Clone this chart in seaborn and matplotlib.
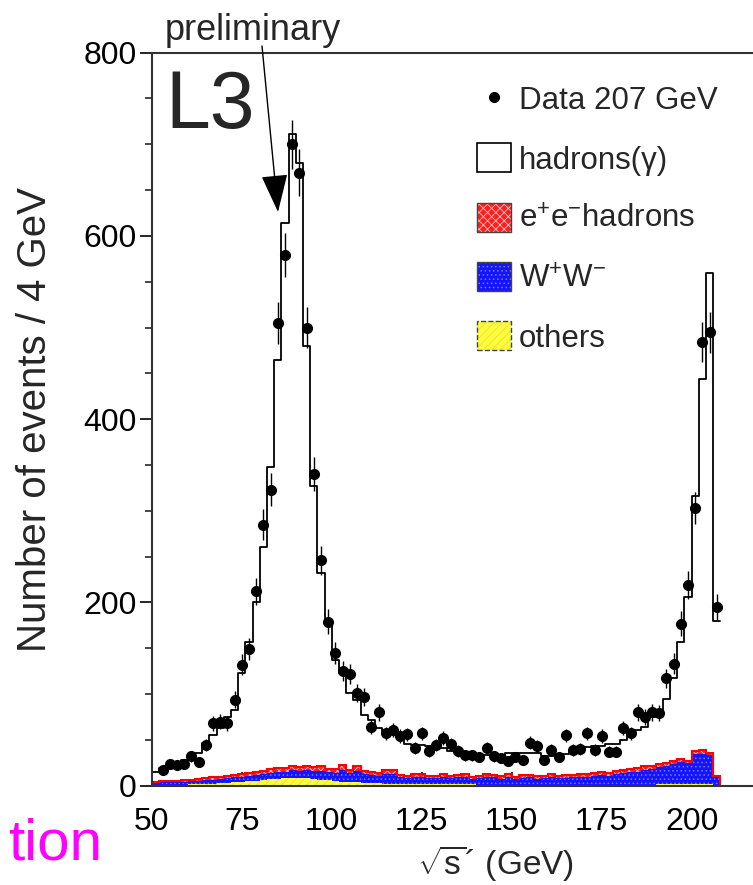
# %% HEADER
# L3 preliminary: sqrt(s') spectrum of hadronic events at 207 GeV

# %% IMPORTS
import matplotlib

matplotlib.use("Agg")
from matplotlib import ticker
from matplotlib.lines import Line2D
from matplotlib.patches import Patch
import matplotlib.pyplot as plt
import numpy as np
import pandas as pd
import seaborn as sns

# %% DATA
# Histogram binning (2 GeV bins from 50 to 208 GeV)
bin_edges = list(range(50, 210, 2))
bin_centres = [edge + 1 for edge in bin_edges[:-1]]

# MC total: hadrons(gamma)
hadrons = [
    15, 19, 22, 25, 28, 32, 36, 47, 55, 63,
    75, 83, 123, 157, 200, 261, 348, 465, 614, 711,
    680, 480, 327, 232, 175, 137, 123, 101, 94, 77,
    72, 63, 60, 57, 53, 45, 44, 44, 43, 42,
    41, 38, 37, 36, 35, 34, 33, 33, 34, 36,
    36, 36, 36, 36, 32, 32, 35, 35, 39, 40,
    42, 43, 43, 45, 46, 50, 55, 61, 64, 75,
    81, 95, 117, 157, 206, 316, 444, 560, 180,
]

# Backgrounds (stacked: others, W+W-, e+e- hadrons)
others = [
    1, 1, 1, 1, 1, 1.5, 1.5, 2, 2, 2.5,
    3, 3.5, 4, 5, 5.5, 6, 7, 7.5, 8, 8.5,
    8.5, 8, 7.5, 6.5, 6, 5, 4.5, 4, 3.5, 3,
    2.5, 2.5, 2, 2, 2, 1.5, 1.5, 1.5, 1.5, 1.5,
    1.5, 1.5, 1.5, 1.5, 1.5, 1, 1, 1, 1, 1,
    1, 1, 1, 1, 1, 1, 1, 1, 1, 1,
    1, 1, 1, 1, 1, 1, 1, 1, 1, 1,
    1.5, 1.5, 1.5, 1.5, 1.5, 1.5, 2, 2, 1,
]
ww = [
    2, 2.5, 2.5, 3, 3.5, 3.5, 4, 4, 4.5, 5,
    5, 5.5, 5.5, 5.5, 6.5, 6.5, 7, 7.5, 7.5, 8.5,
    7.5, 9, 8.5, 10, 9, 9, 12.5, 10, 12.5, 9.5,
    9.5, 8.5, 11, 11, 7, 6.5, 8.5, 8.5, 6.5, 7,
    8, 6.5, 7.5, 8, 6, 7, 8, 8, 6.5, 9,
    6.5, 7.5, 8, 6.5, 7, 8.5, 7, 7.5, 8, 8.5,
    9, 9.5, 10.5, 9.5, 11.5, 12.5, 13.5, 14.5, 16.5, 17.5,
    19, 20, 22, 24.5, 23, 33, 33, 31, 9,
]
ee_hadrons = [
    1.5, 1.5, 1.5, 1.5, 1.5, 1.5, 2, 2, 2.5, 2.5,
    3, 3, 3, 3.5, 3.5, 3.5, 4, 4, 4, 4,
    4, 4.5, 4, 4.5, 3.5, 4, 5.5, 3.5, 5, 3.5,
    3, 3, 4, 4.5, 3, 3, 3, 3, 3, 2.5,
    3.5, 3, 3, 3, 2.5, 3, 3.5, 3, 3, 3,
    2.5, 3, 3, 3, 2.5, 3.5, 3, 3, 3, 3,
    3, 3.5, 3.5, 3, 3.5, 3.5, 3.5, 3.5, 3.5, 3.5,
    3.5, 3.5, 3.5, 3, 3, 3.5, 3.5, 3, 0.5,
]

# Data 207 GeV (bin centres 53 ... 207 GeV)
data_centres = list(range(53, 209, 2))
data_counts = [
    17, 24, 23, 24, 32, 26, 44, 68, 70, 68,
    94, 132, 149, 212, 285, 323, 505, 579, 700, 669,
    500, 340, 246, 179, 145, 125, 122, 101, 97, 64,
    80, 57, 61, 54, 56, 41, 57, 38, 44, 52,
    45, 38, 33, 33, 31, 41, 32, 30, 27, 31,
    28, 47, 43, 28, 39, 31, 55, 39, 40, 57,
    39, 54, 37, 37, 63, 57, 80, 75, 80, 79,
    117, 133, 177, 219, 303, 484, 495, 195,
]

# %% STYLE
sns.set_style("ticks")
plt.rcParams["font.family"] = ["Liberation Sans", "DejaVu Sans"]
plt.rcParams["mathtext.fontset"] = "custom"
plt.rcParams["mathtext.rm"] = "Liberation Sans"
plt.rcParams["mathtext.it"] = "Liberation Sans:italic"
plt.rcParams["hatch.linewidth"] = 0.6

red_face, red_hatch = "#ff1e1e", "#ffc4c4"
blue_face, blue_hatch = "#1414ff", "#7a7aff"
yellow_face, yellow_hatch = "#ffff30", "#d9d980"

# %% PLOT
fig = plt.figure(figsize=(7.53, 8.85), dpi=100)
# Axes runs past the right edge of the figure, as in the cropped original
ax = fig.add_axes([0.2015, 0.1122, 0.8127, 0.8283])

# Stacked backgrounds
others_top = np.array(others)
ww_top = others_top + np.array(ww)
ee_top = ww_top + np.array(ee_hadrons)
ax.stairs(others_top, bin_edges, baseline=0, fill=True, facecolor=yellow_face,
          edgecolor=yellow_hatch, hatch="////", linewidth=0)
ax.stairs(ww_top, bin_edges, baseline=others_top, fill=True, facecolor=blue_face,
          edgecolor=blue_hatch, hatch="....", linewidth=0)
ax.stairs(ee_top, bin_edges, baseline=ww_top, fill=True, facecolor=red_face,
          edgecolor=red_hatch, hatch="xxxx", linewidth=0)
ax.stairs(ww_top, bin_edges, color=blue_face, linewidth=0.8)
ax.stairs(ee_top, bin_edges, color="red", linewidth=1.5)

# Total MC
mc = pd.DataFrame({"centre": bin_centres, "count": hadrons})
sns.histplot(
    data=mc, x="centre", weights="count", bins=bin_edges, element="step",
    fill=False, color="black", linewidth=1.3, ax=ax,
)

# Data with statistical errors
ax.errorbar(
    data_centres, data_counts, yerr=np.sqrt(data_counts), fmt="o",
    color="black", ms=7, elinewidth=1, capsize=0, zorder=5,
)

# Axes
ax.set_xlim(50, 220)
ax.set_ylim(0, 800)
ax.set_xticks([50, 75, 100, 125, 150, 175, 200])
ax.set_yticks([0, 200, 400, 600, 800])
ax.yaxis.set_minor_locator(ticker.MultipleLocator(50))
ax.tick_params(axis="x", direction="in", length=10, width=1.2, pad=15,
               labelsize=23, colors="black")
ax.tick_params(axis="y", which="major", direction="out", length=9, width=1.2,
               pad=2, labelsize=23, colors="black")
ax.tick_params(axis="y", which="minor", direction="out", length=5, width=1.2)
for spine in ax.spines.values():
    spine.set_visible(True)
    spine.set_linewidth(1.5)
    spine.set_color("#333333")

ax.set_ylabel("Number of events / 4 GeV", fontsize=29)
ax.yaxis.set_label_coords(-0.16, 0.5)
ax.set_xlabel(r"$\sqrt{\mathrm{s}}$´ (GeV)", fontsize=24)
ax.xaxis.set_label_coords(0.561, -0.078)

# Legend
handles = [
    Line2D([], [], marker="o", ls="none", color="black", ms=7),
    Patch(facecolor="white", edgecolor="black", linewidth=1.2),
    (Patch(facecolor=red_face, edgecolor=red_hatch, hatch="xxxx", linewidth=0),
     Patch(facecolor="none", edgecolor="#444444", linewidth=1)),
    (Patch(facecolor=blue_face, edgecolor=blue_hatch, hatch="....", linewidth=0),
     Patch(facecolor="none", edgecolor="#444444", linewidth=1)),
    (Patch(facecolor=yellow_face, edgecolor=yellow_hatch, hatch="////", linewidth=0),
     Patch(facecolor="none", edgecolor="#444444", linewidth=1, linestyle="--")),
]
labels = ["Data 207 GeV", "hadrons(γ)", r"e$^{+}$e$^{-}$hadrons",
          r"W$^{+}$W$^{-}$", "others"]
ax.legend(
    handles, labels, loc="upper left",
    bbox_to_anchor=(477 / 753, 1 - 84 / 885), bbox_transform=fig.transFigure,
    frameon=False, fontsize=22.5, handlelength=1.1, handleheight=1.05,
    handletextpad=0.25, labelspacing=0.87, borderpad=0, borderaxespad=0,
)

# Annotations
ax.text(0.022, 0.897, "L3", transform=ax.transAxes, fontsize=58, va="baseline")
fig.text(253 / 753, 1 - 30 / 885, "preliminary", ha="center", va="center",
         fontsize=26)
ax.annotate(
    "", xy=(278, 885 - 212), xycoords="figure pixels",
    xytext=(262, 885 - 46), textcoords="figure pixels",
    arrowprops=dict(arrowstyle="-|>,head_length=1.2,head_width=0.42",
                    mutation_scale=20, lw=1, color="black",
                    shrinkA=0, shrinkB=0),
)
fig.text(8 / 753, 25 / 885, "tion", color="magenta", fontsize=42, va="baseline")

fig.savefig("out.png", dpi=100)
